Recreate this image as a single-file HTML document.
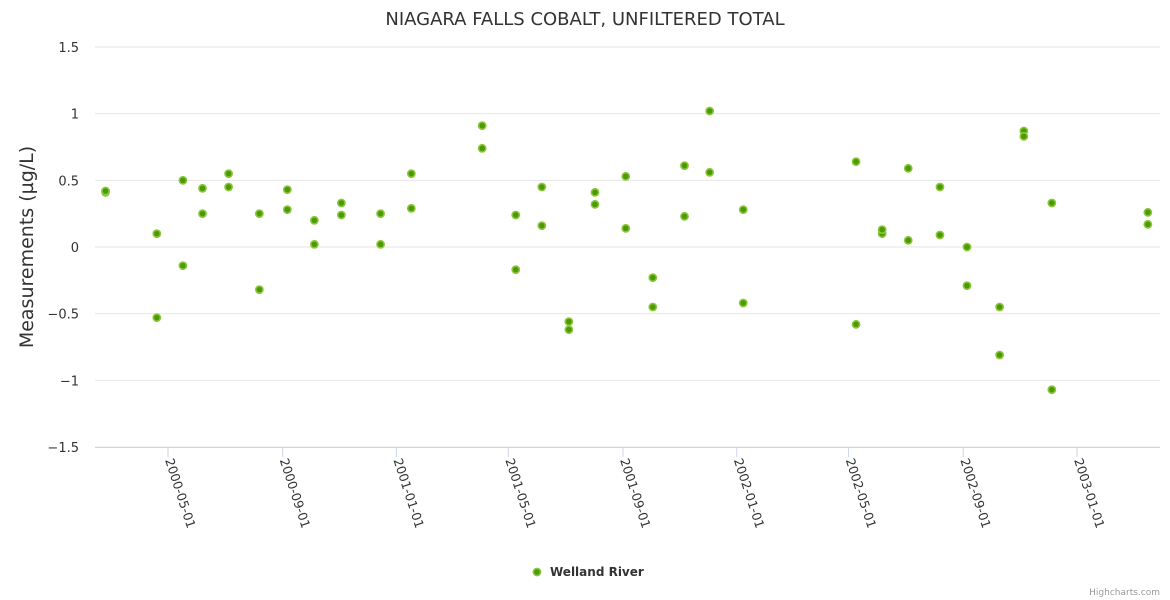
<!DOCTYPE html>
<html><head><meta charset="utf-8"><style>
html,body{margin:0;padding:0;background:#fff;}
svg{display:block;font-family:"DejaVu Sans","Liberation Sans",sans-serif;}
</style></head><body>
<svg id="chart" width="1170" height="600"></svg>
<script>
const dates=["2000-02-24","2000-04-19","2000-05-17","2000-06-07","2000-07-05","2000-08-07","2000-09-06","2000-10-05","2000-11-03","2000-12-15","2001-01-17","2001-04-03","2001-05-09","2001-06-06","2001-07-05","2001-08-02","2001-09-04","2001-10-03","2001-11-06","2001-12-03","2002-01-08","2002-05-09","2002-06-06","2002-07-04","2002-08-07","2002-09-05","2002-10-10","2002-11-05","2002-12-05","2003-03-18"];
const valuesA=[0.41,0.10,0.50,0.44,0.45,0.25,0.43,0.20,0.33,0.25,0.29,0.91,0.24,0.45,-0.56,0.41,0.53,-0.23,0.61,1.02,0.28,0.64,0.10,0.59,0.09,0.00,-0.45,0.87,-1.07,0.26];
const valuesB=[0.42,-0.53,-0.14,0.25,0.55,-0.32,0.28,0.02,0.24,0.02,0.55,0.74,-0.17,0.16,-0.62,0.32,0.14,-0.45,0.23,0.56,-0.42,-0.58,0.13,0.05,0.45,-0.29,-0.81,0.83,0.33,0.17];
const yTicks=[-1.5,-1,-0.5,0,0.5,1,1.5];
const xTicks=["2000-05-01","2000-09-01","2001-01-01","2001-05-01","2001-09-01","2002-01-01","2002-05-01","2002-09-01","2003-01-01"];

const NS="http://www.w3.org/2000/svg";
const svg=document.getElementById('chart');
function mk(t,a,p){const e=document.createElementNS(NS,t);for(const k in a)e.setAttribute(k,a[k]);(p||svg).appendChild(e);return e;}
const day=s=>Date.UTC(+s.slice(0,4),+s.slice(5,7)-1,+s.slice(8,10))/864e5;
const d0=day("2000-05-01"),pxPerDay=(1077-168)/975;
const X=s=>168+(day(s)-d0)*pxPerDay;
const Y=v=>247-v*(400/3);

let t=mk('text',{x:585,y:25,'text-anchor':'middle','font-size':18,fill:'#333'});

t.textContent='NIAGARA FALLS COBALT, UNFILTERED TOTAL';

yTicks.forEach(v=>{
 const g=mk('line',{x1:95,x2:1160,y1:Y(v),y2:Y(v),stroke:'#e6e6e6','stroke-width':1});
 
 const l=mk('text',{x:79,y:Y(v)+5,'text-anchor':'end','font-size':13,fill:'#333'});
 
 l.textContent=v===0?'0':String(v).replace('-','−');
});
let yt=mk('text',{x:0,y:0,'text-anchor':'middle','font-size':19,fill:'#333',transform:'translate(33,247) rotate(-90)'});

yt.textContent='Measurements (µg/L)';

let ax=mk('line',{x1:95,x2:1160,y1:447.5,y2:447.5,stroke:'#ccd6eb','stroke-width':1});

xTicks.forEach(s=>{
 const x=X(s);
 const tk=mk('line',{x1:x,x2:x,y1:447,y2:457,stroke:'#ccd6eb'});
 
 const l=mk('text',{x:0,y:0,'font-size':12.5,fill:'#333',transform:`translate(${x-3},460) rotate(72)`});
 
 l.textContent=s;
});

function pt(x,y){
 const c=mk('circle',{cx:x,cy:y,r:3.6,fill:'#4a9a00',stroke:'#8cc63f','stroke-width':1.6});
 
}
dates.forEach((s,i)=>{pt(X(s),Y(valuesA[i]));pt(X(s),Y(valuesB[i]));});

const lg=mk('g',{});

mk('circle',{cx:537,cy:572,r:3.6,fill:'#4a9a00',stroke:'#8cc63f','stroke-width':1.6},lg);
const lt=mk('text',{x:550,y:576,'font-size':12,'font-weight':'bold',fill:'#333'},lg);
lt.textContent='Welland River';
const cr=mk('text',{x:1160,y:595,'text-anchor':'end','font-size':9,fill:'#999'});

cr.textContent='Highcharts.com';
</script>
</body></html>
